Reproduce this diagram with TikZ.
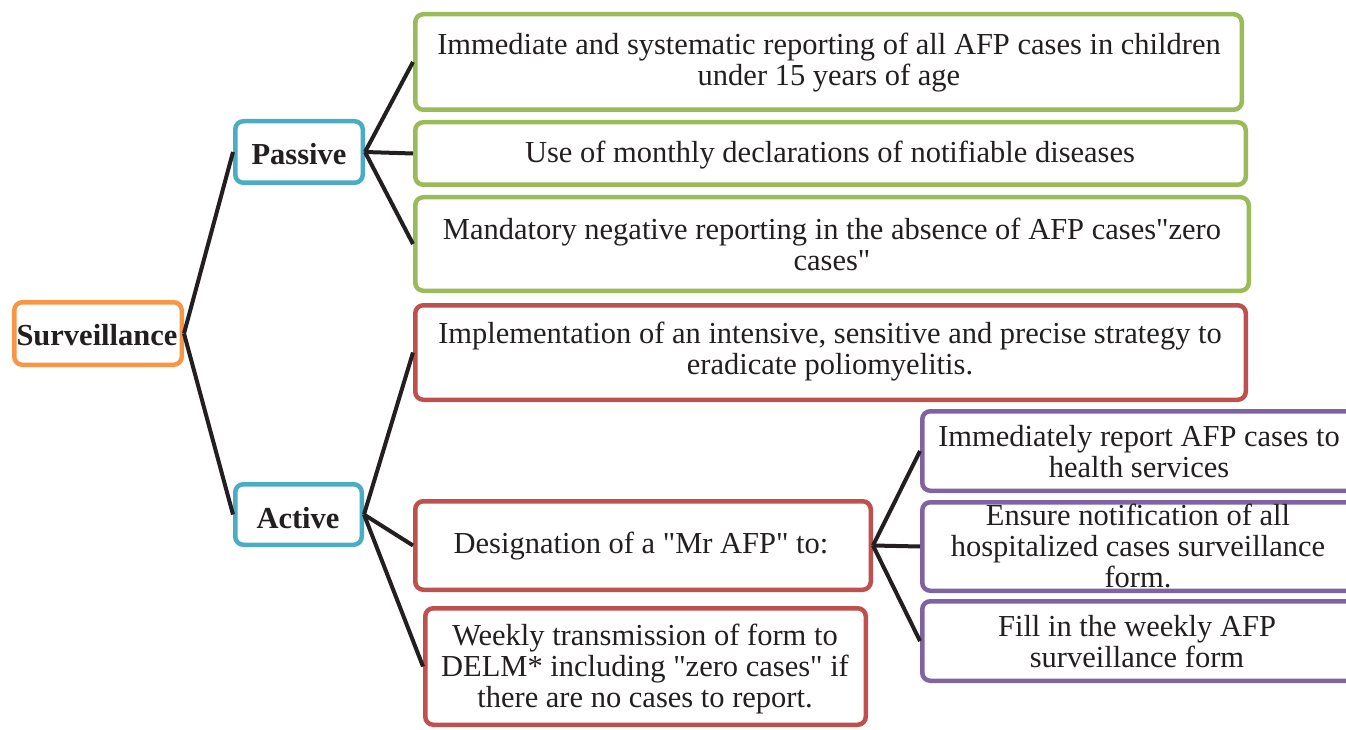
\documentclass[tikz,border=0pt]{standalone}
\usepackage{fontspec}
\setmainfont{Liberation Serif}
\definecolor{txt}{HTML}{231F20}
\definecolor{corange}{HTML}{F79646}
\definecolor{cblue}{HTML}{4BACC6}
\definecolor{cgreen}{HTML}{9BBB59}
\definecolor{cred}{HTML}{C0504D}
\definecolor{cpurple}{HTML}{8064A2}
\newcommand{\q}{\XeTeXglyph\XeTeXcharglyph"22\relax}
\tikzset{
  box/.style={draw, line width=4.5pt, rounded corners=8pt, fill=white, text=txt, align=center, inner sep=0pt},
  hdr/.style={box},
  link/.style={line width=4pt, draw=txt},
  t/.style={text=txt, align=center, inner sep=0pt, font=\fontsize{30.5}{31}\selectfont},
  tb/.style={t, font=\fontsize{30.5}{31}\selectfont\bfseries},
}
\newcommand{\bx}[7]{%
  \node[#2, draw=#3, minimum width={#6-#4-4.5}, minimum height={#7-#5-4.5}] (#1) at ({(#4+#6)/2},{(#5+#7)/2}) {};}
\begin{document}
\begin{tikzpicture}[x=1pt,y=-1pt]
\useasboundingbox (0,0) rectangle (1346,730);
\clip (0,0) rectangle (1346,730);
% boxes
\bx{surv}{hdr}{corange}{12}{300}{184}{367}
\bx{pass}{hdr}{cblue}{233}{119}{365}{185}
\bx{act}{hdr}{cblue}{233}{482}{364}{547}
\bx{g1}{box}{cgreen}{413}{12}{1244}{112}
\bx{g2}{box}{cgreen}{413}{120}{1248}{187}
\bx{g3}{box}{cgreen}{413}{195}{1251}{293}
\bx{r1}{box}{cred}{413}{303}{1248}{402}
\bx{r2}{box}{cred}{413}{499}{873}{592}
\bx{r3}{box}{cred}{423}{606}{868}{727}
\bx{p1}{box}{cpurple}{920}{409}{1360}{493}
\bx{p2}{box}{cpurple}{920}{500}{1360}{593}
\bx{p3}{box}{cpurple}{920}{599}{1360}{683}
% texts
\node[tb] (tsurv) at (97,335) {Surveillance};
\node[tb] (tpass) at (299,154) {Passive};
\node[tb] (tact) at (298,518) {Active};
\node[t] (tg1) at (829,63) {Immediate and systematic reporting of all AFP cases in children\\under 15 years of age};
\node[t] (tg2) at (830,155) {Use of monthly declarations of notifiable diseases};
\node[t] (tg3) at (832,244) {Mandatory negative reporting in the absence of AFP cases\q zero\\cases\q};
\node[t] (tr1) at (830,352) {Implementation of an intensive, sensitive and precise strategy to\\eradicate poliomyelitis.};
\node[t] (tr2) at (641,546) {Designation of a \q Mr AFP\q\ to:};
\node[t] (tr3) at (645,669) {Weekly transmission of form to\\DELM* including \q zero cases\q\ if\\there are no cases to report.};
\node[t] (tp1) at (1139,452) {Immediately report AFP cases to\\health services};
\node[t] (tp2) at (1138,546) {Ensure notification of all\\hospitalized cases surveillance\\form.};
\node[t] (tp3) at (1137,642) {Fill in the weekly AFP\\surveillance form};
% connectors
\draw[link] (surv.east) -- (pass.west);
\draw[link] (surv.east) -- (act.west);
\draw[link] (pass.east) -- (g1.west);
\draw[link] (pass.east) -- (g2.west);
\draw[link] (pass.east) -- (g3.west);
\draw[link] (act.east) -- (r1.west);
\draw[link] (act.east) -- (r2.west);
\draw[link] (act.east) -- (r3.west);
\draw[link] (r2.east) -- (p1.west);
\draw[link] (r2.east) -- (p2.west);
\draw[link] (r2.east) -- (p3.west);
\end{tikzpicture}
\end{document}
